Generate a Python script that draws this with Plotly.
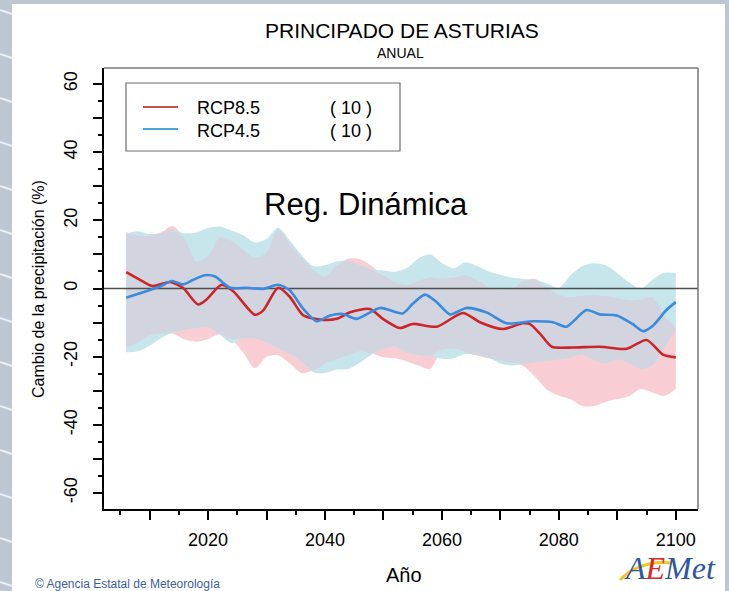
import plotly.graph_objects as go
import numpy as np

# ---------------------------------------------------------------- data
# Ensemble spread (min / max of the 10 models) on a 2-year grid
band_years = list(range(2006, 2101, 2))

rcp85_upper = [16.6, 15.6, 15.4, 16.5, 18.3, 14.5, 8.0, 9.5, 15.0, 14.0,
               11.5, 9.0, 10.5, 17.3, 13.0, 9.0, 5.5, 3.5, 6.8, 8.8,
               8.6, 6.6, 3.8, 1.8, 1.0, 2.2, 3.3, 3.0, 3.2, 3.8,
               2.5, 0.4, -0.3, 0.0, 2.2, 2.8, 0.3, -1.8, -2.5, -2.1,
               -2.0, -2.3, -2.8, -3.4, -3.2, -2.6, -8.0, -11.5]
rcp85_lower = [-17.3, -15.8, -13.8, -13.3, -13.3, -15.0, -15.6, -14.8, -13.4, -14.8,
               -18.8, -23.4, -20.0, -19.6, -22.0, -24.8, -24.0, -22.0, -20.8, -19.6,
               -18.4, -19.0, -20.2, -20.5, -21.4, -22.6, -23.6, -18.0, -17.6, -18.6,
               -19.6, -20.5, -21.2, -21.8, -22.8, -26.0, -29.8, -31.4, -32.5, -34.5,
               -34.5, -33.2, -32.4, -31.6, -29.5, -30.5, -31.5, -29.5]
rcp45_upper = [16.1, 16.8, 16.0, 16.2, 17.2, 16.2, 16.4, 17.8, 18.2, 17.0,
               15.6, 13.5, 14.5, 17.8, 14.0, 9.8, 6.6, 6.8, 7.9, 8.1,
               6.8, 5.6, 5.3, 4.9, 6.0, 8.8, 10.0, 7.5, 5.9, 7.6,
               6.6, 5.0, 4.0, 3.2, 2.8, 2.5, 1.5, 0.2, 3.8, 6.5,
               7.4, 6.8, 4.5, 1.8, -0.1, 2.6, 4.6, 4.5]
rcp45_lower = [-18.7, -18.4, -16.8, -14.5, -12.9, -12.2, -11.6, -11.3, -13.5, -16.0,
               -14.6, -14.6, -15.8, -17.6, -19.2, -21.5, -24.6, -24.8, -23.8, -23.6,
               -21.8, -19.4, -17.7, -17.0, -18.7, -19.5, -19.7, -20.6, -20.5, -19.2,
               -19.6, -20.3, -22.0, -22.6, -22.1, -21.6, -21.2, -20.8, -20.3, -19.4,
               -21.0, -22.0, -20.8, -21.8, -23.6, -22.5, -17.5, -12.0]

# Ensemble mean (smoothed)
rcp85_years = [2006, 2008.5, 2010.5, 2013.5, 2015.7, 2018.3, 2019.7, 2022.3, 2024.3,
               2028, 2029.4, 2032, 2034, 2036.3, 2039.7, 2042, 2044.3, 2047.7,
               2049.9, 2052.8, 2055, 2059.1, 2063.6, 2066.5, 2070.4, 2073.8, 2075,
               2076.8, 2078.8, 2082.4, 2087, 2091.6, 2095, 2097.8, 2100]
rcp85_mean = [4.8, 2.4, 0.7, 1.9, 0.2, -4.7, -3.3, 1.1, -0.8,
              -7.7, -6.5, 0.2, -2.5, -7.9, -9.2, -8.9, -7.0, -6.0,
              -8.9, -11.6, -10.4, -11.2, -7.2, -9.9, -11.9, -10.2, -10.4,
              -13.3, -17.1, -17.3, -17.1, -17.7, -15.1, -19.4, -20.2]

rcp45_years = [2006, 2008.9, 2011.8, 2013.8, 2015.7, 2017.4, 2019.5, 2021.2, 2023.8,
               2026.6, 2029.4, 2032, 2034, 2036.3, 2038.6, 2040.9, 2043.1, 2045.4,
               2049.4, 2053.3, 2055, 2057.1, 2059.1, 2061.4, 2064.2, 2067.6, 2071.1,
               2075.6, 2079, 2081.3, 2084.7, 2087, 2089.9, 2092.6, 2094.4, 2096.1,
               2098.4, 2100]
rcp45_mean = [-2.7, -1.1, 0.6, 2.2, 1.2, 2.5, 3.9, 3.5, 0.2,
              0.2, -0.1, 1.1, -0.6, -6.0, -9.6, -7.9, -7.5, -8.9,
              -5.7, -7.3, -4.5, -1.8, -4.0, -7.6, -5.7, -7.0, -10.2,
              -9.6, -9.9, -11.2, -6.3, -7.6, -7.9, -10.4, -12.5, -10.9,
              -6.3, -4.0]

scenarios = ["RCP8.5", "RCP4.5"]
n_models = [10, 10]

x_ticks = list(range(2010, 2101, 10))
x_labels = [str(v) if v % 20 == 0 else "" for v in x_ticks]
y_ticks = list(range(-60, 61, 10))
y_labels = [str(v) if v % 20 == 0 else "" for v in y_ticks]

X_RANGE = [2002.2, 2103.8]
Y_RANGE = [-64.7, 64.7]

# ---------------------------------------------------------------- styles
RED = "#cc2529"
BLUE = "#3b8bdb"
PINK = "#f8cdd4"
CYAN = "#c6e6ec"
OVERLAP = "#d2d5e0"
FONT = "Liberation Sans"

W, H = 729, 591
L, R, T, B = 104, 698, 68, 509   # plot area in pixels


def px(x):
    return (x - L) / (R - L)


def py(y):
    return (B - y) / (B - T)


fig = go.Figure()


def band(lo, hi, color):
    fig.add_trace(go.Scatter(x=band_years, y=lo, mode="lines",
                             line=dict(width=0, shape="spline", smoothing=0.8),
                             hoverinfo="skip", showlegend=False))
    fig.add_trace(go.Scatter(x=band_years, y=hi, mode="lines", fill="tonexty",
                             fillcolor=color,
                             line=dict(width=0, shape="spline", smoothing=0.8),
                             hoverinfo="skip", showlegend=False))


band(rcp85_lower, rcp85_upper, PINK)
band(rcp45_lower, rcp45_upper, CYAN)

# region shared by both spreads
ov_hi = np.minimum(rcp85_upper, rcp45_upper)
ov_lo = np.maximum(rcp85_lower, rcp45_lower)
ov_lo = np.minimum(ov_lo, ov_hi)
band(list(ov_lo), list(ov_hi), OVERLAP)

# zero reference line
fig.add_trace(go.Scatter(x=X_RANGE, y=[0, 0], mode="lines",
                         line=dict(color="#4d4d4d", width=1.5),
                         hoverinfo="skip", showlegend=False))

fig.add_trace(go.Scatter(x=rcp85_years, y=rcp85_mean, mode="lines",
                         line=dict(color=RED, width=2.6, shape="spline", smoothing=0.7),
                         showlegend=False))
fig.add_trace(go.Scatter(x=rcp45_years, y=rcp45_mean, mode="lines",
                         line=dict(color=BLUE, width=2.6, shape="spline", smoothing=0.7),
                         showlegend=False))

# ---------------------------------------------------------------- frame
shapes = [
    # white page on the tinted background
    dict(type="rect", xref="paper", yref="paper", layer="below",
         x0=px(12), x1=px(725), y0=py(H + 5), y1=py(4),
         fillcolor="white", line=dict(width=0)),
    # top and right frame lines
    dict(type="line", xref="paper", yref="paper", x0=0, x1=1, y0=1, y1=1,
         line=dict(color="#777777", width=1.5)),
    dict(type="line", xref="paper", yref="paper", x0=1, x1=1, y0=0, y1=1,
         line=dict(color="#777777", width=1.5)),
    # legend box
    dict(type="rect", xref="paper", yref="paper",
         x0=px(126), x1=px(400), y0=py(151), y1=py(83),
         fillcolor="white", line=dict(color="#6e6e6e", width=1.2)),
    dict(type="line", xref="paper", yref="paper", x0=px(143), x1=px(178),
         y0=py(107), y1=py(107), line=dict(color="#c0504d", width=2)),
    dict(type="line", xref="paper", yref="paper", x0=px(143), x1=px(178),
         y0=py(129), y1=py(129), line=dict(color="#4aa3d8", width=2)),
    # logo swoosh
    dict(type="path", xref="paper", yref="paper",
         path=f"M {px(620)} {py(580)} Q {px(640)} {py(560)} {px(672)} {py(563)}",
         line=dict(color="#f2c81e", width=3)),
]

# light streaks on the tinted left margin
for k in range(14):
    y0 = 10 + k * 44
    shapes.append(dict(type="line", xref="paper", yref="paper",
                       x0=px(0), x1=px(12), y0=py(y0), y1=py(y0 + 4),
                       line=dict(color="rgba(255,255,255,0.7)", width=2)))


def label(text, x, y, size, color="black", xanchor="center", yanchor="middle",
          family=FONT, **kw):
    return dict(text=text, x=px(x), y=py(y), xref="paper", yref="paper",
                xanchor=xanchor, yanchor=yanchor, showarrow=False,
                font=dict(family=family, size=size, color=color), **kw)


annotations = [
    label("PRINCIPADO DE ASTURIAS", 402, 30, 21),
    label("ANUAL", 400, 53, 14),
    label("Reg. Dinámica", 366, 204, 31),
    label("Año", 404, 575, 20),
    label("Cambio de la precipitación (%)", 38, 289, 16, textangle=-90),
    label("© Agencia Estatal de Meteorología", 33, 575, 12, color="#3c5f9e",
          xanchor="left", yanchor="top"),
    label("<i><span style='color:#2e55a6'>A</span>"
          "<span style='color:#d62b2b'>E</span>"
          "<span style='color:#2e55a6'>Met</span></i>",
          670, 568, 32, family="Liberation Serif"),
]

for i, (name, n) in enumerate(zip(scenarios, n_models)):
    ty = 108 + i * 23
    annotations.append(label(name, 195, ty, 18, xanchor="left"))
    annotations.append(label(f"( {n} )", 328, ty, 18, xanchor="left"))

fig.update_layout(
    width=W, height=H,
    margin=dict(l=L, r=W - R, t=T, b=H - B, pad=0),
    paper_bgcolor="#bdc7d4",
    plot_bgcolor="white",
    showlegend=False,
    shapes=shapes,
    annotations=annotations,
    xaxis=dict(range=X_RANGE, showgrid=False, zeroline=False,
               showline=True, linecolor="black", linewidth=2,
               ticks="outside", ticklen=9, tickwidth=1.5, tickcolor="black",
               tickmode="array", tickvals=x_ticks, ticktext=x_labels,
               ticklabelstandoff=4,
               tickfont=dict(family=FONT, size=18, color="black"),
               minor=dict(ticks="outside", ticklen=4, tickwidth=1.5,
                          tickcolor="black", tick0=2000, dtick=5)),
    yaxis=dict(range=Y_RANGE, showgrid=False, zeroline=False,
               showline=True, linecolor="black", linewidth=2,
               ticks="outside", ticklen=9, tickwidth=1.5, tickcolor="black",
               tickmode="array", tickvals=y_ticks, ticktext=y_labels,
               tickangle=-90, ticklabelstandoff=9,
               tickfont=dict(family=FONT, size=18, color="black"),
               minor=dict(ticks="outside", ticklen=4, tickwidth=1.5,
                          tickcolor="black", tick0=0, dtick=5)),
)

fig.write_html("out.html")
